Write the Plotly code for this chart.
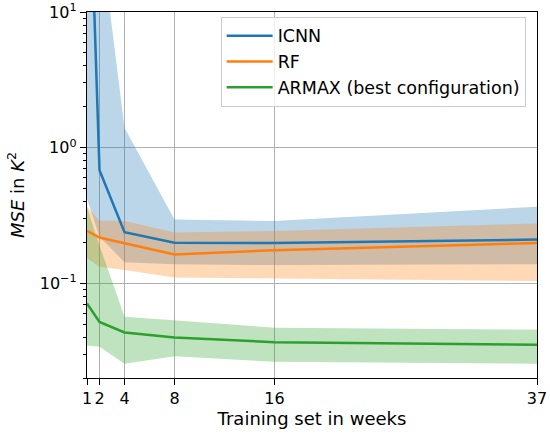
import plotly.graph_objects as go
import math

weeks = [1, 2, 4, 8, 16, 37]

icnn_mean = [450, 0.68, 0.238, 0.199, 0.198, 0.210]
icnn_upper = [2000, 42, 1.4, 0.295, 0.288, 0.366]
icnn_lower = [0.42, 0.22, 0.143, 0.138, 0.136, 0.138]

rf_mean = [0.243, 0.217, 0.197, 0.163, 0.175, 0.198]
rf_upper = [0.366, 0.29, 0.288, 0.237, 0.243, 0.276]
rf_lower = [0.153, 0.132, 0.125, 0.110, 0.109, 0.104]

armax_mean = [0.0709, 0.0518, 0.0433, 0.0398, 0.0367, 0.0351]
armax_upper = [0.36, 0.19, 0.0567, 0.0533, 0.047, 0.0455]
armax_lower = [0.0348, 0.034, 0.0255, 0.0289, 0.0263, 0.0255]

series = [
    ("ICNN", icnn_mean, icnn_upper, icnn_lower, "#1f77b4", "rgba(31,119,180,0.3)"),
    ("RF", rf_mean, rf_upper, rf_lower, "#ff7f0e", "rgba(255,127,14,0.3)"),
    ("ARMAX (best configuration)", armax_mean, armax_upper, armax_lower, "#2ca02c", "rgba(44,160,44,0.3)"),
]

fig = go.Figure()
for name, m, up, lo, col, fcol in series:
    fig.add_trace(go.Scatter(
        x=weeks + weeks[::-1], y=up + lo[::-1], fill="toself", fillcolor=fcol,
        line=dict(width=0), mode="lines", showlegend=False, hoverinfo="skip"))
for name, m, up, lo, col, fcol in series:
    fig.add_trace(go.Scatter(x=weeks, y=m, mode="lines", name=name,
                             line=dict(color=col, width=2.5)))

tick_font = dict(family="DejaVu Sans", size=16, color="black")
title_font = dict(family="DejaVu Sans", size=18, color="black")

minor_vals = []
for d in [0.01, 0.1, 1]:
    for k in range(2, 10):
        minor_vals.append(k * d)

fig.update_layout(
    width=550, height=437,
    margin=dict(l=87, r=13, t=12, b=59),
    paper_bgcolor="white", plot_bgcolor="white",
    font=title_font,
    legend=dict(x=0.297, y=0.987, xanchor="left", yanchor="top",
                bgcolor="rgba(255,255,255,0.8)", bordercolor="#cccccc", borderwidth=1,
                font=dict(family="DejaVu Sans", size=17.5, color="black"), tracegroupgap=0,
                itemwidth=46),
    xaxis=dict(
        range=[1, 37], tickvals=weeks, ticktext=[str(w) for w in weeks],
        tickfont=tick_font, automargin=False,
        showgrid=True, gridcolor="#b0b0b0", gridwidth=1,
        ticks="outside", ticklen=6, tickcolor="black", tickwidth=1.2,
        showline=True, linecolor="black", linewidth=1.4, mirror=True,
        zeroline=False,
        title=dict(text="Training set in weeks", font=title_font, standoff=4),
    ),
    yaxis=dict(
        type="log", range=[math.log10(0.02), 1],
        tickvals=[0.1, 1, 10], ticktext=["10<sup>\u22121</sup>", "10<sup>0</sup>", "10<sup>1</sup>"],
        tickfont=tick_font, automargin=False, ticklabeloverflow="allow",
        showgrid=True, gridcolor="#b0b0b0", gridwidth=1,
        ticks="outside", ticklen=6, tickcolor="black", tickwidth=1.2,
        minor=dict(tickvals=minor_vals, ticks="outside", ticklen=3, tickcolor="black", showgrid=False),
        showline=True, linecolor="black", linewidth=1.4, mirror=True,
        zeroline=False,
        title=dict(text="<i>MSE</i> in <i>K</i><sup>2</sup>", font=title_font, standoff=10),
    ),
)

# remove the page's default 8px body margin so the 550x437 figure fills the window
fig.write_html("out.html", config={"displayModeBar": False},
               post_script="document.body.style.margin='0';")
